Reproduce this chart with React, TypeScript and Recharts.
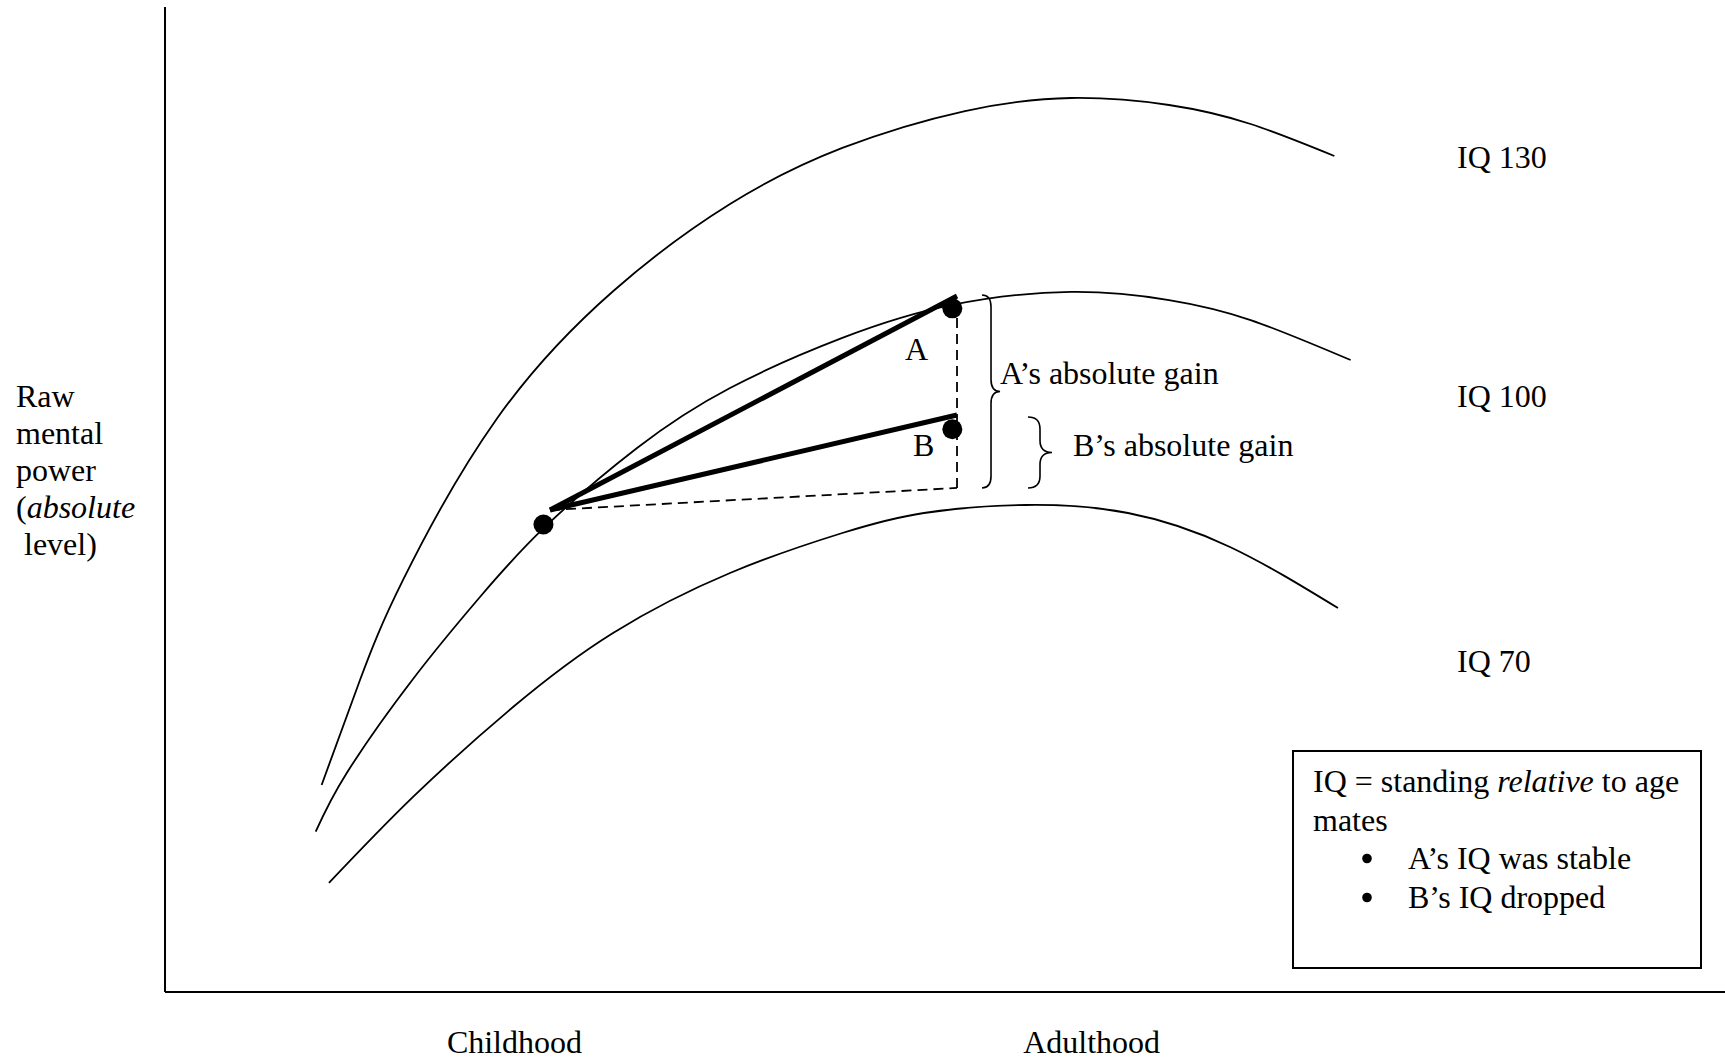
import React from "react";
import {
  ComposedChart,
  Line,
  XAxis,
  YAxis,
  ReferenceLine,
  ReferenceDot,
  ReferenceArea,
} from "recharts";

// ---- Data (abstract units: age 0-100, raw mental power 0-100) ----
const iq130 = [
  { x: 10.04, y: 21.02 },
  { x: 12.5, y: 31.68 },
  { x: 15.26, y: 41.83 },
  { x: 21.26, y: 58.17 },
  { x: 28.74, y: 71.17 },
  { x: 36.22, y: 80.0 },
  { x: 43.42, y: 85.69 },
  { x: 51.28, y: 89.44 },
  { x: 58.08, y: 90.76 },
  { x: 64.36, y: 90.05 },
  { x: 69.59, y: 88.12 },
  { x: 74.96, y: 84.87 },
];

const iq100 = [
  { x: 9.66, y: 16.27 },
  { x: 11.65, y: 22.23 },
  { x: 15.9, y: 31.78 },
  { x: 20.19, y: 40.1 },
  { x: 24.29, y: 47.11 },
  { x: 30.26, y: 55.23 },
  { x: 36.22, y: 61.32 },
  { x: 43.42, y: 66.4 },
  { x: 50.45, y: 69.75 },
  { x: 58.08, y: 71.07 },
  { x: 64.36, y: 70.25 },
  { x: 69.59, y: 68.22 },
  { x: 76.0, y: 64.16 },
];

const iq70 = [
  { x: 10.51, y: 11.07 },
  { x: 15.9, y: 19.8 },
  { x: 22.31, y: 28.93 },
  { x: 28.72, y: 36.45 },
  { x: 36.22, y: 42.54 },
  { x: 43.42, y: 46.6 },
  { x: 48.65, y: 48.63 },
  { x: 55.19, y: 49.44 },
  { x: 61.73, y: 48.63 },
  { x: 68.27, y: 45.18 },
  { x: 75.19, y: 38.98 },
];

// Person trajectories: common start, A's end, B's end, baseline corner
const startPoint = { x: 24.68, y: 48.93 };
const aEnd = { x: 50.77, y: 70.66 };
const bEnd = { x: 50.77, y: 58.58 };
const dashCorner = { x: 50.77, y: 51.17 };

// Dots: start, A at adulthood, B at adulthood
const dots = [
  { x: 24.26, y: 47.46 },
  { x: 50.47, y: 69.41 },
  { x: 50.47, y: 57.13 },
];

// Braces (gain ranges)
const braceA = { x1: 52.37, x2: 53.53, y1: 51.17, y2: 70.76 };
const braceB = { x1: 55.32, x2: 56.86, y1: 51.17, y2: 58.38 };

// X-axis tick labels
const xTickValues = [22.4, 59.4];
const xTickLabels = ["Childhood", "Adulthood"];

const curveLabels = ["IQ 130", "IQ 100", "IQ 70"];
const yLabelLines = ["Raw", "mental", "power"];
const legendBullets = ["A\u2019s IQ was stable", "B\u2019s IQ dropped"];

const FONT = "'Liberation Serif', 'Times New Roman', serif";
const FS = 32;

const Brace = (props: any) => {
  const { x, y, width: w, height: h } = props;
  if (x == null || y == null) return null;
  const mid = x + w * 0.5;
  const ym = y + h / 2;
  const r = Math.min(h / 4, 12);
  const d = [
    `M ${x} ${y}`,
    `Q ${mid} ${y} ${mid} ${y + r}`,
    `L ${mid} ${ym - r}`,
    `Q ${mid} ${ym} ${x + w} ${ym}`,
    `Q ${mid} ${ym} ${mid} ${ym + r}`,
    `L ${mid} ${y + h - r}`,
    `Q ${mid} ${y + h} ${x} ${y + h}`,
  ].join(" ");
  return <path d={d} fill="none" stroke="#000" strokeWidth={1.6} />;
};

export default function App() {
  const textStyle: React.CSSProperties = { fontFamily: FONT, fontSize: FS };
  return (
    <div style={{ position: "absolute", left: 0, top: 0, width: 1725, height: 1063, background: "#fff" }}>
      <ComposedChart
        width={1725}
        height={1063}
        margin={{ top: 7, right: 0, bottom: 0, left: 100 }}
      >
        <XAxis
          type="number"
          dataKey="x"
          domain={[0, 100]}
          allowDataOverflow
          height={71}
          ticks={xTickValues}
          tickFormatter={(v: number) => xTickLabels[xTickValues.indexOf(v)] ?? ""}
          tickLine={false}
          tickMargin={32}
          tick={{ fill: "#000", fontFamily: FONT, fontSize: FS }}
          axisLine={{ stroke: "#000", strokeWidth: 2 }}
        />
        <YAxis
          type="number"
          dataKey="y"
          domain={[0, 100]}
          allowDataOverflow
          width={65}
          tick={false}
          tickLine={false}
          axisLine={{ stroke: "#000", strokeWidth: 2 }}
        />
        <Line data={iq130} dataKey="y" type="natural" dot={false} stroke="#000" strokeWidth={1.8} isAnimationActive={false} />
        <Line data={iq100} dataKey="y" type="natural" dot={false} stroke="#000" strokeWidth={1.8} isAnimationActive={false} />
        <Line data={iq70} dataKey="y" type="natural" dot={false} stroke="#000" strokeWidth={1.8} isAnimationActive={false} />

        <ReferenceLine segment={[startPoint, dashCorner]} stroke="#000" strokeWidth={1.8} strokeDasharray="10 6" />
        <ReferenceLine segment={[dashCorner, aEnd]} stroke="#000" strokeWidth={1.8} strokeDasharray="10 6" />

        <ReferenceLine segment={[startPoint, aEnd]} stroke="#000" strokeWidth={5} />
        <ReferenceLine segment={[startPoint, bEnd]} stroke="#000" strokeWidth={5} />

        {dots.map((d, i) => (
          <ReferenceDot key={i} x={d.x} y={d.y} r={10} fill="#000" stroke="none" />
        ))}

        <ReferenceArea {...braceA} shape={(p: any) => <Brace {...p} />} />
        <ReferenceArea {...braceB} shape={(p: any) => <Brace {...p} />} />
      </ComposedChart>

      <svg
        width={1725}
        height={1063}
        style={{ position: "absolute", left: 0, top: 0, pointerEvents: "none" }}
      >
        <g style={textStyle} fill="#000">
          <text x={1457} y={168}>{curveLabels[0]}</text>
          <text x={1457} y={407}>{curveLabels[1]}</text>
          <text x={1457} y={672}>{curveLabels[2]}</text>

          <text x={905} y={360}>A</text>
          <text x={913} y={456}>B</text>
          <text x={1000} y={384}>A&#8217;s absolute gain</text>
          <text x={1073} y={456}>B&#8217;s absolute gain</text>

          <text x={16} y={407}>{yLabelLines[0]}</text>
          <text x={16} y={444}>{yLabelLines[1]}</text>
          <text x={16} y={481}>{yLabelLines[2]}</text>
          <text x={16} y={518}>
            (<tspan fontStyle="italic">absolute</tspan>
          </text>
          <text x={16} y={555} xmlSpace="preserve">{" level)"}</text>

          <rect x={1293} y={751} width={408} height={217} fill="none" stroke="#000" strokeWidth={2} />
          <text x={1313} y={792}>
            IQ = standing <tspan fontStyle="italic">relative</tspan> to age
          </text>
          <text x={1313} y={831}>mates</text>
          <circle cx={1367} cy={858.5} r={4.8} />
          <text x={1408} y={869}>{legendBullets[0]}</text>
          <circle cx={1367} cy={897.5} r={4.8} />
          <text x={1408} y={908}>{legendBullets[1]}</text>
        </g>
      </svg>
    </div>
  );
}
